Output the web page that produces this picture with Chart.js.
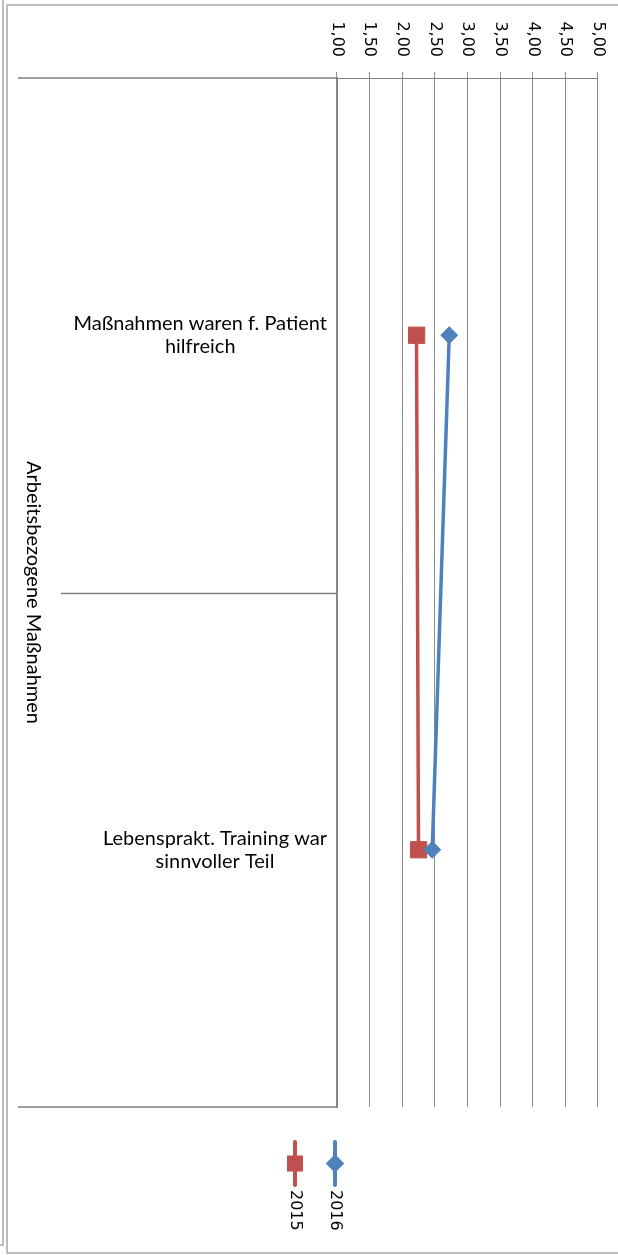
<!DOCTYPE html>
<html lang="de">
<head>
<meta charset="utf-8">
<title>Arbeitsbezogene Maßnahmen</title>
<script src="https://cdn.jsdelivr.net/npm/chart.js@4/dist/chart.umd.min.js"></script>
<style>
  html, body { margin: 0; padding: 0; background: #fff; }
  #wrap { position: relative; width: 618px; height: 1255px; overflow: hidden; }
  /* the chart is laid out landscape and turned a quarter clockwise */
  #chart { position: absolute; left: 0; top: 0; transform-origin: 0 0; transform: translate(618px, 0) rotate(90deg); }
</style>
</head>
<body>
<div id="wrap"><canvas id="chart" width="1255" height="618"></canvas></div>
<script>
const categories = [
  ['Maßnahmen waren f. Patient', 'hilfreich'],
  ['Lebensprakt. Training war', 'sinnvoller Teil']
];
const groupLabel = 'Arbeitsbezogene Maßnahmen';
const seriesNames = ['2016', '2015'];
const series2016 = [2.72, 2.46];
const series2015 = [2.22, 2.25];
const valueTicks = [1, 1.5, 2, 2.5, 3, 3.5, 4, 4.5, 5];

const blue = '#4F81BD';
const red = '#C0504D';
const gridGrey = '#8c8c8c';
const axisGrey = '#808080';
const frameGrey = '#a8a8a8';
const labelFont = 'Lato, "Open Sans", sans-serif';
const numberFont = '"DejaVu Sans", sans-serif';
const labelSize = 20;
const labelLine = 23;

const decorations = {
  id: 'decorations',
  beforeDraw(chart) {
    const ctx = chart.ctx;
    ctx.save();
    ctx.fillStyle = '#fff';
    ctx.fillRect(0, 0, chart.width, chart.height);
    // frame
    ctx.strokeStyle = frameGrey;
    ctx.lineWidth = 1.5;
    ctx.beginPath();
    ctx.moveTo(5, -2); ctx.lineTo(5, 611); ctx.lineTo(1253, 611); ctx.lineTo(1253, -2);
    ctx.stroke();
    ctx.beginPath();
    ctx.moveTo(0, 615); ctx.lineTo(1245, 615); ctx.lineTo(1245, 620);
    ctx.stroke();
    ctx.restore();
  },
  afterDraw(chart) {
    const ctx = chart.ctx;
    const x = chart.scales.x;
    const area = chart.chartArea;
    ctx.save();

    // category boundaries below the axis
    const mid = (x.getPixelForValue(0) + x.getPixelForValue(1)) / 2;
    ctx.strokeStyle = axisGrey;
    ctx.lineWidth = 1.5;
    ctx.beginPath();
    ctx.moveTo(area.left, area.bottom); ctx.lineTo(area.left, 600);
    ctx.moveTo(Math.round(mid) + 0.5, area.bottom); ctx.lineTo(Math.round(mid) + 0.5, 557);
    ctx.moveTo(area.right, area.bottom); ctx.lineTo(area.right, 600);
    ctx.stroke();

    // category labels: centred lines, block ending just below the axis
    ctx.fillStyle = '#000';
    ctx.font = labelSize + 'px ' + labelFont;
    ctx.textAlign = 'center';
    ctx.textBaseline = 'middle';
    chart.data.labels.forEach((lines, i) => {
      const w = Math.max(...lines.map(s => ctx.measureText(s).width));
      ctx.save();
      ctx.translate(x.getPixelForValue(i), area.bottom + 10);
      ctx.rotate(-Math.PI / 2);
      lines.forEach((s, j) => {
        ctx.fillText(s, -w / 2, (j - (lines.length - 1) / 2) * labelLine);
      });
      ctx.restore();
    });

    // outer category level
    ctx.fillText(groupLabel, (area.left + area.right) / 2, 585);

    // legend
    chart.data.datasets.forEach((ds, i) => {
      const cy = 283 + i * 40;
      ctx.strokeStyle = ds.borderColor;
      ctx.fillStyle = ds.borderColor;
      ctx.lineWidth = 4;
      ctx.lineCap = 'round';
      ctx.beginPath();
      ctx.moveTo(1142, cy); ctx.lineTo(1185, cy);
      ctx.stroke();
      Chart.helpers.drawPoint(ctx, {
        pointStyle: ds.pointStyle,
        radius: ds.pointStyle === 'rect' ? 8.5 : 6.5,
        borderWidth: 1
      }, 1163.5, cy);
      ctx.fillStyle = '#000';
      ctx.font = '16px ' + numberFont;
      ctx.textAlign = 'left';
      ctx.fillText(ds.label, 1190, cy);
    });
    ctx.restore();
  }
};

new Chart(document.getElementById('chart'), {
  type: 'line',
  data: {
    labels: categories,
    datasets: [{
      label: seriesNames[0],
      data: series2016,
      borderColor: blue,
      backgroundColor: blue,
      borderWidth: 3.5,
      pointStyle: 'rectRot',
      pointRadius: 8.5,
      pointBorderWidth: 1,
      tension: 0
    }, {
      label: seriesNames[1],
      data: series2015,
      borderColor: red,
      backgroundColor: red,
      borderWidth: 3.5,
      pointStyle: 'rect',
      pointRadius: 11.5,
      pointBorderWidth: 1,
      tension: 0
    }]
  },
  options: {
    responsive: false,
    animation: false,
    layout: { padding: { top: 20, right: 148, left: 0, bottom: 0 } },
    plugins: {
      legend: { display: false },
      tooltip: { enabled: false }
    },
    scales: {
      x: {
        offset: true,
        grid: { display: false, drawTicks: false },
        border: { display: true, color: axisGrey, width: 1.5 },
        ticks: { display: false },
        afterFit(scale) {
          scale.height = 337;
          scale.paddingLeft = 0;
          scale.paddingRight = 0;
        }
      },
      y: {
        min: 1,
        max: 5,
        afterBuildTicks(scale) { scale.ticks = valueTicks.map(v => ({ value: v })); },
        grid: { color: gridGrey, tickLength: 6, lineWidth: 1 },
        border: { display: true, color: axisGrey, width: 1 },
        ticks: {
          padding: 15,
          color: '#000',
          font: { family: numberFont, size: 16 },
          callback: v => v.toFixed(2).replace('.', ',')
        },
        afterFit(scale) {
          scale.width = 78;
          scale.paddingTop = 0;
          scale.paddingBottom = 0;
        }
      }
    }
  },
  plugins: [decorations]
});
</script>
</body>
</html>
